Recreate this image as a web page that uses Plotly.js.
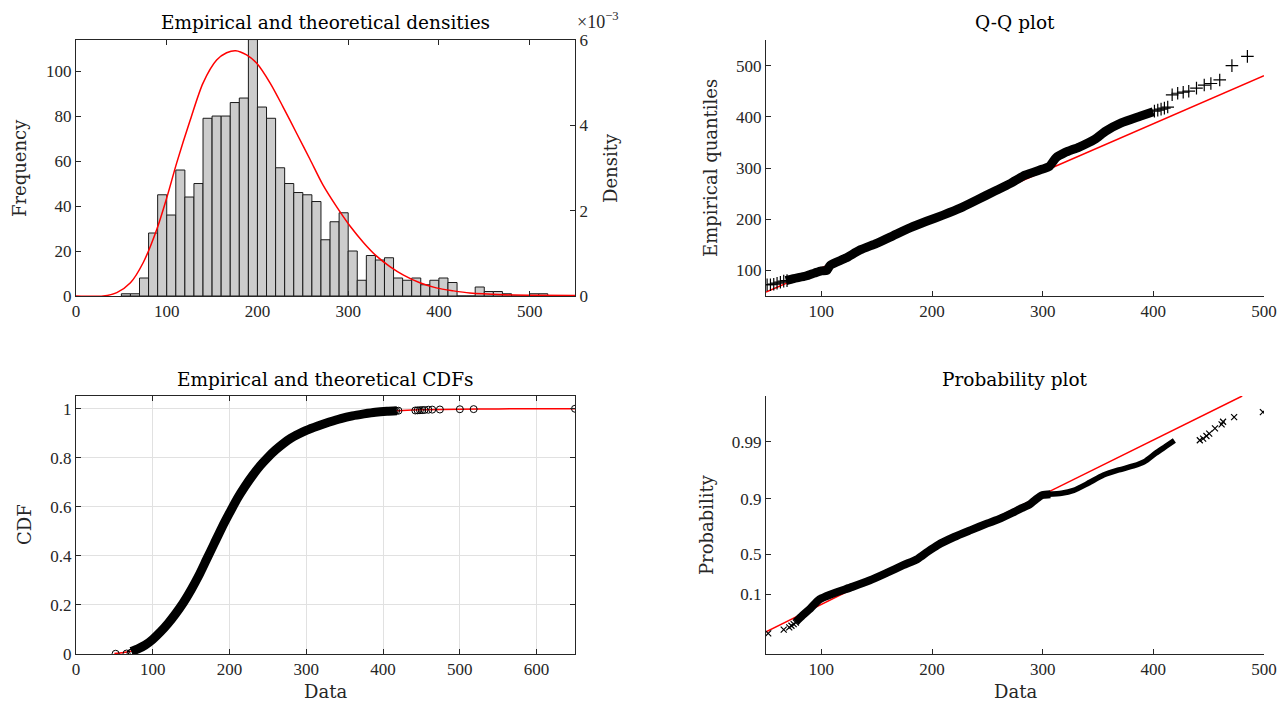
<!DOCTYPE html>
<html>
<head>
<meta charset="utf-8">
<script src="https://cdn.plot.ly/plotly-3.0.1.min.js"></script>
<style>
  html, body { margin: 0; padding: 0; background: #ffffff; }
  #chart { width: 1279px; height: 705px; }
</style>
</head>
<body>
<div id="chart"></div>
<script>
// ---------------- Data ----------------
// Histogram: bin centres (bin width 10) and counts
const histBinCenters = [55,65,75,85,95,105,115,125,135,145,155,165,175,185,195,205,215,225,235,245,
  255,265,275,285,295,305,315,325,335,345,355,365,375,385,395,405,415,425,435,445,455,465,475,485,495,505,515,525,535,545];
const histCounts = [1,1,8,28,45,36,56,44,50,79,80,80,86,88,114,84,79,57,50,46,
  45,42,25,33,37,20,7,18,16,17,8,7,8,5,7,8,6,0,0,4,2,2,1,0,0,1,1,0,0,0];

// Fitted density (right axis, units of 1e-3)
const pdfX = [0,30,45,60,74,89,100,111,126,140,155,166,176,188,199,214,228,243,258,272,287,302,317,331,346,361,379,397,416,434,471,508,550];
const pdfY = [0,0.0,0.08,0.31,0.78,1.56,2.30,3.12,4.13,4.99,5.53,5.70,5.75,5.65,5.46,4.99,4.44,3.82,3.20,2.61,2.10,1.64,1.25,0.94,0.69,0.49,0.31,0.19,0.12,0.07,0.03,0.015,0.01];

// Empirical CDF: dense band and individually visible points
const ecdfBandX = [72,80,90,100,110,120,130,140,150,160,170,180,190,200,210,220,230,240,250,260,270,280,290,300,315,330,345,360,375,390,405,418];
const ecdfBandY = [0.010,0.020,0.036,0.060,0.090,0.125,0.165,0.210,0.262,0.320,0.385,0.450,0.515,0.575,0.633,0.683,0.728,0.768,0.802,0.832,0.858,0.880,0.897,0.912,0.930,0.946,0.960,0.971,0.979,0.986,0.990,0.992];
const ecdfPtsX = [51.6,65.9,71,72.5,415,417,420,442,445,448,451,454,459,464,474,500,518,650];
const ecdfPtsY = [0.001,0.002,0.004,0.006,0.991,0.9915,0.992,0.993,0.9935,0.994,0.9945,0.995,0.996,0.9965,0.997,0.998,0.9985,1.0];
// Theoretical CDF
const tcdfX = [50,60,70,80,100,125,150,175,200,215,225,250,275,300,325,350,375,400,425,450,500,550,650];
const tcdfY = [0.002,0.005,0.010,0.020,0.055,0.145,0.275,0.420,0.565,0.665,0.722,0.805,0.870,0.915,0.948,0.969,0.982,0.989,0.993,0.996,0.998,0.9995,1.0];

// Q-Q plot: theoretical (x) vs empirical (y) quantiles
const qqBandX = [68,75,86,94,100,105,108,122,135,150,165,180,195,210,226,241,256,271,284,300,306,312,320,333,347,357,371,388,400];
const qqBandY = [80,84,89,95,99,100,110,124,140,153,168,183,196,208,222,238,254,270,286,298,303,320,330,341,356,372,388,401,410];
const qqPtsX = [51,54,57,60,63,66,69,401,404,407,410,413,417,422,427,432,439,446,452,460,471,485];
const qqPtsY = [72,72,73,75,77,79,80,411,413,415,417,419,443,446,448,450,456,462,465,472,500,518];
const qqRefX = [50,500];
const qqRefY = [57.8,480.5];

// Probability plot: data (x) vs probability-scale position (y, quantile units)
const ppBandX = [77,83,90,97,100,112,128,144,159,174,187,196,205,220,235,250,262,274,281,288,294,300,307];
const ppBandY = [68,80,92.5,107,111,121,132,144,157.5,171.5,183,196,208,223,235.6,247.8,257,268.5,275.5,282,292,299.5,301];
const ppUpperX = [305,317,328,341,355,368,382,392,402,411,419];
const ppUpperY = [301,302.7,308,321,336,345,352.6,360.5,375.7,388,399];
const ppPtsX = [52,66,71,73,75,77,442,445,448,450.5,455.7,461.7,463,473,499];
const ppPtsY = [47,54,58,61,64,67,399.5,402.4,407.3,411.5,421.3,428.5,433.3,441.8,450.9];
const ppRefX = [50,480.3];
const ppRefY = [50,480.3];
const probTickLabels = ['0.1','0.5','0.9','0.99'];
const probTickPos = [118.4,191.4,292.4,396.4];

// ---------------- Styling ----------------
const FONT = 'Liberation Serif, DejaVu Serif, serif';
const LFONT = 'DejaVu Serif, Liberation Serif, serif';
const AX = '#262626';
const tickFont = {family: FONT, size: 17, color: AX};
const W = 1279, H = 705;
const px = v => v / W;
const py = v => 1 - v / H;

const domLeft = [px(76), px(575)];
const domRight = [px(766), px(1264)];
const domTop = [py(296), py(40)];
const domBottom = [py(654), py(396)];

function axisBase(extra) {
  return Object.assign({
    ticks: 'inside', ticklen: 5, tickwidth: 1, tickcolor: AX,
    showline: true, linecolor: AX, linewidth: 1,
    showgrid: false, zeroline: false, tickfont: tickFont,
    automargin: false, fixedrange: true
  }, extra);
}

function label(text, xPix, yPix, opts) {
  return Object.assign({
    text: text, x: px(xPix), y: py(yPix), xref: 'paper', yref: 'paper',
    xanchor: 'center', yanchor: 'middle', showarrow: false,
    font: {family: LFONT, size: 18, color: AX}
  }, opts || {});
}

const traces = [
  {type: 'bar', x: histBinCenters, y: histCounts, width: 10, xaxis: 'x', yaxis: 'y',
   marker: {color: '#cccccc', line: {color: '#1a1a1a', width: 1}}, hoverinfo: 'skip'},
  {type: 'scatter', mode: 'lines', x: pdfX, y: pdfY, xaxis: 'x', yaxis: 'y2',
   line: {color: '#ff0000', width: 1.5, shape: 'spline', smoothing: 0.8}},

  {type: 'scatter', mode: 'lines', x: qqRefX, y: qqRefY, xaxis: 'x2', yaxis: 'y3',
   line: {color: '#ff0000', width: 1.5}},
  {type: 'scatter', mode: 'lines', x: qqBandX, y: qqBandY, xaxis: 'x2', yaxis: 'y3',
   line: {color: '#000000', width: 9, shape: 'spline', smoothing: 0.6}},
  {type: 'scatter', mode: 'markers', x: qqPtsX, y: qqPtsY, xaxis: 'x2', yaxis: 'y3',
   marker: {symbol: 'cross-thin-open', size: 9, color: '#000000', line: {color: '#000000', width: 1.2}}},

  {type: 'scatter', mode: 'lines', x: tcdfX, y: tcdfY, xaxis: 'x3', yaxis: 'y4',
   line: {color: '#ff0000', width: 1.5, shape: 'spline', smoothing: 0.6}},
  {type: 'scatter', mode: 'lines', x: ecdfBandX, y: ecdfBandY, xaxis: 'x3', yaxis: 'y4',
   line: {color: '#000000', width: 9, shape: 'spline', smoothing: 0.6}},
  {type: 'scatter', mode: 'markers', x: ecdfPtsX, y: ecdfPtsY, xaxis: 'x3', yaxis: 'y4',
   marker: {symbol: 'circle-open', size: 7, color: '#000000', line: {color: '#000000', width: 1}}},

  {type: 'scatter', mode: 'lines', x: ppRefX, y: ppRefY, xaxis: 'x4', yaxis: 'y5',
   line: {color: '#ff0000', width: 1.5}},
  {type: 'scatter', mode: 'lines', x: ppBandX, y: ppBandY, xaxis: 'x4', yaxis: 'y5',
   line: {color: '#000000', width: 8, shape: 'spline', smoothing: 0.6}},
  {type: 'scatter', mode: 'lines', x: ppUpperX, y: ppUpperY, xaxis: 'x4', yaxis: 'y5',
   line: {color: '#000000', width: 5.5, shape: 'spline', smoothing: 0.6}},
  {type: 'scatter', mode: 'markers', x: ppPtsX, y: ppPtsY, xaxis: 'x4', yaxis: 'y5',
   marker: {symbol: 'x-thin-open', size: 6, color: '#000000', line: {color: '#000000', width: 1.2}}}
];

const layout = {
  width: W, height: H,
  margin: {l: 0, r: 0, t: 0, b: 0},
  paper_bgcolor: '#ffffff', plot_bgcolor: '#ffffff',
  showlegend: false, bargap: 0,
  font: {family: FONT, color: AX},
  xaxis: axisBase({domain: domLeft, anchor: 'y', range: [0, 550], tickvals: [0,100,200,300,400,500], mirror: 'ticks'}),
  yaxis: axisBase({domain: domTop, anchor: 'x', range: [0, 113.8], tickvals: [0,20,40,60,80,100]}),
  yaxis2: axisBase({overlaying: 'y', side: 'right', anchor: 'x', range: [0, 6], tickvals: [0,2,4,6]}),

  xaxis2: axisBase({domain: domRight, anchor: 'y3', range: [50, 500], tickvals: [100,200,300,400,500]}),
  yaxis3: axisBase({domain: domTop, anchor: 'x2', range: [50, 550], tickvals: [100,200,300,400,500]}),

  xaxis3: axisBase({domain: domLeft, anchor: 'y4', range: [0, 650], tickvals: [0,100,200,300,400,500,600],
    mirror: 'ticks', showgrid: true, gridcolor: '#e1e1e1'}),
  yaxis4: axisBase({domain: domBottom, anchor: 'x3', range: [0, 1.052], tickvals: [0,0.2,0.4,0.6,0.8,1],
    mirror: 'ticks', showgrid: true, gridcolor: '#e1e1e1'}),

  xaxis4: axisBase({domain: domRight, anchor: 'y5', range: [50, 500], tickvals: [100,200,300,400,500]}),
  yaxis5: axisBase({domain: domBottom, anchor: 'x4', range: [9.5, 480.3], tickvals: probTickPos, ticktext: probTickLabels}),

  annotations: [
    label('Empirical and theoretical densities', 325.5, 22, {font: {family: LFONT, size: 18.5, color: '#000'}}),
    label('Q-Q plot', 1015, 22, {font: {family: LFONT, size: 18.5, color: '#000'}}),
    label('Empirical and theoretical CDFs', 325.5, 379, {font: {family: LFONT, size: 18.5, color: '#000'}}),
    label('Probability plot', 1015, 379, {font: {family: LFONT, size: 18.5, color: '#000'}}),
    label('Frequency', 19, 168, {textangle: -90}),
    label('Density', 610, 168, {textangle: -90}),
    label('×10<sup>−3</sup>', 575, 20, {xanchor: 'left', font: {family: FONT, size: 18, color: AX}}),
    label('Empirical quantiles', 710, 168, {textangle: -90}),
    label('CDF', 24, 525, {textangle: -90}),
    label('Probability', 706, 525, {textangle: -90}),
    label('Data', 325.5, 704, {yanchor: 'bottom'}),
    label('Data', 1015, 704, {yanchor: 'bottom'})
  ]
};

Plotly.newPlot('chart', traces, layout, {displayModeBar: false, staticPlot: true});
</script>
</body>
</html>
